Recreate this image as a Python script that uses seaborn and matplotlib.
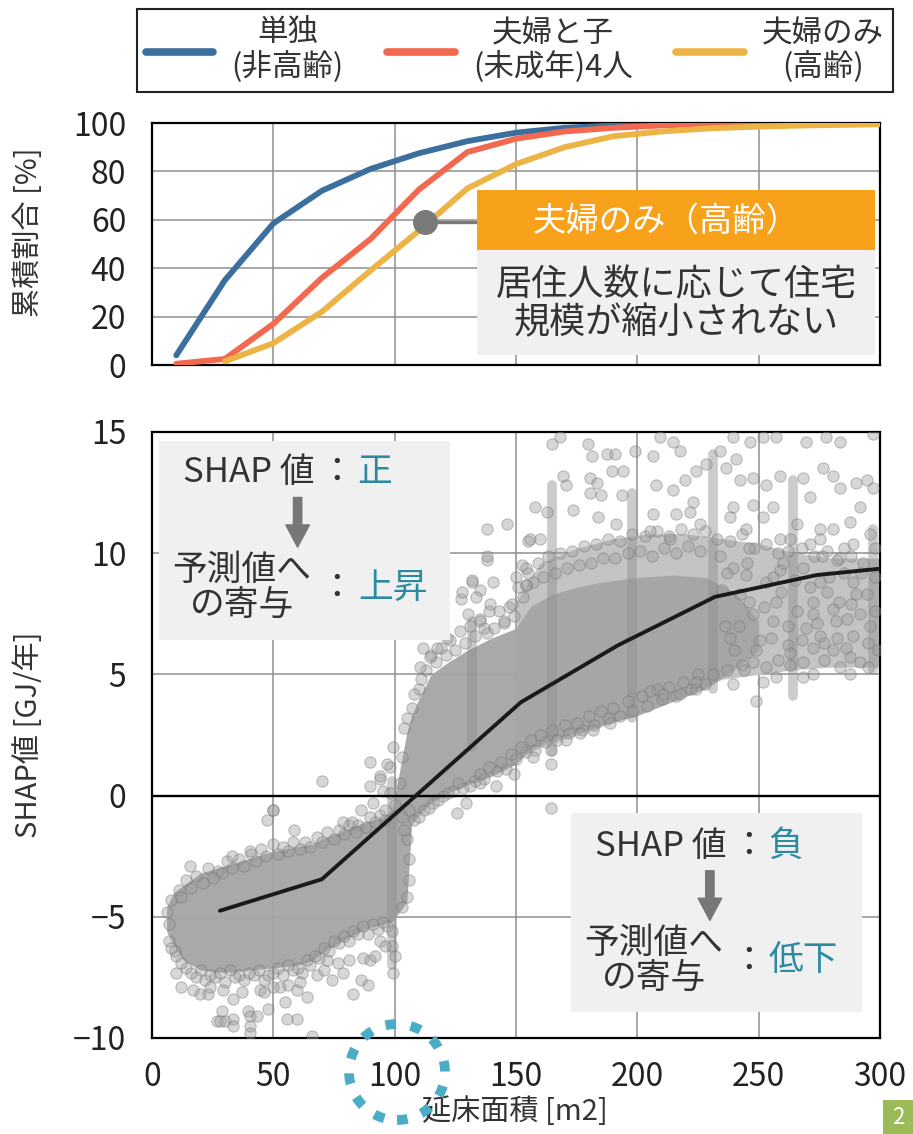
import numpy as np
import pandas as pd
import matplotlib
matplotlib.use("Agg")
import matplotlib.pyplot as plt
import seaborn as sns
from matplotlib import font_manager
from matplotlib.patches import Rectangle, Ellipse
from matplotlib.lines import Line2D

# ---------------------------------------------------------------- data
# cumulative share of households by floor area [%]
area_steps = [10, 30, 50, 70, 90, 110, 130, 150, 170, 190, 210, 230, 250, 270, 290, 300]
cum_single = [4, 35, 58.5, 72, 81, 87.5, 92.5, 96, 98, 99, 99.5, 99.7, 99.8, 99.9, 100, 100]
cum_family = [0.5, 2.5, 17, 36, 52, 72.5, 88, 93.5, 96.5, 98, 99, 99.5, 99.7, 99.8, 99.9, 100]
area_steps_couple = [30, 50, 70, 90, 110, 130, 150, 170, 190, 210, 230, 250, 270, 290, 300]
cum_couple = [1.5, 9, 22, 39, 55.5, 73, 83, 90, 94.5, 96.5, 97.8, 98.5, 99, 99.3, 99.5]

group_labels = ["単独\n(非高齢)", "夫婦と子\n(未成年)4人", "夫婦のみ\n(高齢)"]
group_colors = ["#3A6F9E", "#F2694F", "#EDB445"]

# SHAP values of floor area: dense body of the cloud (lower / upper bound)
cloud_x = [6, 9, 13, 20, 30, 40, 50, 60, 66, 70, 75, 82, 88, 95, 99, 102, 105, 107,
           110, 115, 122, 130, 140, 150, 156, 165, 175, 185, 200, 215, 228, 240, 250]
cloud_lo = [-5.6, -6.2, -6.8, -7.2, -7.3, -7.2, -7.1, -7.0, -6.8, -6.5, -6.2, -5.8, -5.5,
            -5.3, -5.2, -4.8, -4.4, -1.2, -0.8, -0.3, 0.1, 0.45, 0.8, 1.3, 1.9, 2.3, 2.6,
            2.9, 3.3, 3.9, 4.4, 5.2, 6.0]
cloud_hi = [-4.6, -4.0, -3.7, -3.2, -2.9, -2.6, -2.3, -2.1, -2.0, -1.8, -1.6, -1.3, -1.1,
            -0.9, -0.6, 1.0, 2.6, 3.3, 4.0, 5.0, 5.5, 6.0, 6.5, 6.9, 7.8, 8.3, 8.6, 8.8,
            9.0, 9.1, 9.0, 8.4, 7.2]
# looser part of the cloud at larger floor areas
haze_x = [150, 160, 175, 190, 205, 220, 235, 250, 265, 280, 300]
haze_lo = [1.5, 2.0, 2.5, 3.0, 3.6, 4.2, 4.8, 5.0, 5.2, 5.3, 5.3]
haze_hi = [8.0, 9.6, 10.2, 10.6, 10.8, 10.8, 10.6, 10.4, 10.0, 9.8, 9.8]
# stacked columns at round floor areas
streak_x = [99, 132, 165, 198, 231, 264, 297]
streak_lo = [-7.0, 2.0, 1.8, 3.2, 4.4, 4.1, 5.2]
streak_hi = [0.6, 7.2, 12.8, 12.5, 14.1, 13.0, 11.0]

# individual samples around the edges of the cloud
edge_pts = [
    # small areas, upper rim
    (8, -4.3), (11, -3.9), (14, -3.5), (18, -3.3), (23, -3.0), (27, -3.1), (31, -2.7),
    (36, -2.6), (41, -2.4), (45, -2.2), (50, -2.0), (54, -2.1), (58, -1.9), (63, -1.9),
    (68, -1.7), (72, -1.5), (77, -1.4), (81, -1.2), (85, -1.2), (90, -0.9), (94, -0.8),
    (86, -0.6), (91, -0.3), (95, 0.2),
    (6, -4.8), (7, -5.3), (12, -4.2), (16, -3.8), (21, -3.6), (25, -3.4), (29, -3.2),
    (33, -3.0), (38, -2.9), (43, -2.7), (47, -2.5), (52, -2.4), (56, -2.3), (61, -2.2),
    (65, -2.1), (70, -1.9), (75, -1.8), (79, -1.6), (84, -1.5), (88, -1.3), (92, -1.1),
    (96, -1.0), (100, -0.4), (102, 0.5),
    # small areas, lower rim
    (7, -6.0), (10, -6.6), (14, -7.1), (18, -7.5), (22, -7.6), (26, -7.5), (30, -7.7),
    (34, -7.5), (38, -7.6), (42, -7.4), (46, -7.6), (50, -7.3), (54, -7.4), (58, -7.2),
    (62, -7.3), (65, -7.0), (69, -6.7), (73, -6.4), (77, -6.1), (81, -6.0), (85, -5.7),
    (89, -5.7), (93, -5.5), (97, -5.4),
    (8, -6.3), (12, -6.9), (16, -7.3), (20, -7.2), (24, -7.4), (28, -7.3), (32, -7.2),
    (36, -7.4), (40, -7.3), (44, -7.2), (48, -7.4), (52, -7.1), (56, -7.0), (60, -7.1),
    (64, -6.8), (67, -6.6), (71, -6.3), (75, -6.0), (79, -5.8), (83, -5.6), (87, -5.4),
    (91, -5.3), (95, -5.2), (99, -5.6), (99, -6.2), (100, -6.6), (103, -4.6), (105, -4.2),
    (106, -3.5), (106, -2.6), (105, -1.8),
    # medium / large areas, lower rim
    (104, -1.4), (108, -1.0), (112, -0.6), (116, -0.3), (120, 0.0), (124, 0.2), (128, 0.3),
    (133, 0.6), (137, 0.7), (142, 1.0), (146, 1.1), (150, 1.5), (154, 1.8), (158, 1.9),
    (162, 2.2), (167, 2.3), (172, 2.6), (177, 2.7), (182, 2.9), (188, 3.2), (193, 3.3),
    (198, 3.5), (204, 3.7), (210, 4.0), (216, 4.1), (222, 4.4), (228, 4.6),
    (103, -0.9), (106, -0.6), (110, -0.9), (114, -0.5), (118, -0.2), (122, 0.1), (126, 0.5),
    (131, 0.4), (135, 0.9), (139, 1.2), (144, 1.4), (148, 1.7), (152, 2.0), (156, 2.3),
    (160, 2.5), (165, 2.7), (170, 2.9), (175, 3.0), (180, 3.3), (185, 3.5), (190, 3.6),
    (196, 3.9), (202, 4.1), (208, 4.4), (213, 4.5), (219, 4.7), (225, 5.0), (231, 5.0),
    (237, 5.2), (243, 5.4), (253, 5.3), (258, 5.6), (263, 5.4), (277, 5.6), (295, 5.3),
    # medium / large areas, upper rim
    (104, 2.8), (107, 3.6), (110, 4.4), (113, 5.2), (117, 5.5), (121, 5.8), (125, 6.0),
    (129, 6.3), (133, 6.6), (137, 6.9), (141, 6.9), (145, 7.1), (149, 7.4), (153, 8.2),
    (157, 8.8), (161, 9.0), (166, 9.2), (171, 9.4), (176, 9.5), (181, 9.6), (186, 9.8),
    (191, 9.8), (196, 10.0), (201, 10.1), (206, 9.9), (211, 10.2), (216, 10.0),
    (221, 10.3), (226, 10.1),
    (103, 1.6), (105, 3.2), (108, 4.2), (111, 4.8), (115, 5.8), (119, 6.1), (123, 6.4),
    (127, 6.8), (131, 7.0), (135, 7.3), (139, 7.6), (143, 7.6), (147, 7.8), (151, 8.6),
    (155, 9.2), (159, 9.6), (163, 9.9), (168, 10.0), (173, 10.1), (178, 10.3), (183, 10.4),
    (188, 10.6), (193, 10.5), (198, 10.8), (203, 10.7), (208, 10.9), (213, 10.7),
    (218, 11.0), (223, 10.8), (228, 10.9), (233, 10.6), (238, 10.5), (243, 10.8),
    (248, 10.2), (253, 10.4), (258, 10.0), (263, 10.6), (268, 10.2), (273, 9.9),
    (278, 10.1), (283, 9.8), (288, 9.9), (293, 9.6), (298, 10.2),
]
# samples in the sparse areas
outlier_pts = [
    # small floor areas
    (15.7, -2.9), (32.8, -2.5), (40.4, -2.3), (47.2, -1.0), (49.7, -0.6), (58.5, -1.4),
    (78.8, -1.1), (82.3, -1.1), (89.8, 0.4), (69.9, 0.6), (50.0, -0.6), (89.8, 1.4),
    (94.0, 0.8), (98.0, 1.2), (9.5, -6.4), (9.9, -7.3), (19.8, -8.2), (23.2, -8.2),
    (29.4, -8.0), (33.5, -8.4), (28.7, -8.9), (26.7, -9.3), (30.1, -9.3), (33.5, -9.2),
    (39.7, -8.9), (40.4, -9.1), (43.1, -9.1), (44.5, -8.0), (47.9, -8.8), (40.4, -9.5),
    (52.7, -7.9), (54.8, -8.5), (56.2, -7.8), (59.6, -8.0), (63.7, -8.3), (55.5, -9.2),
    (59.6, -9.2), (65.8, -9.9), (72.0, -6.8), (76.8, -6.9), (78.8, -7.3), (83.0, -8.2),
    (87.1, -6.7), (89.8, -6.8), (94.0, -6.0), (99.4, -7.3), (40.4, -9.8), (28.0, -9.3),
    (33.4, -9.5), (12, -7.9), (17, -8.0), (24, -7.9), (37, -8.1), (46, -8.1), (50, -7.9),
    (61, -7.7), (68, -7.4), (71, -7.2), (74, -7.6), (81, -6.8), (86, -7.6), (92, -6.6),
    (96, -6.2), (89, -7.8),
    # medium floor areas
    (99.4, 2.0), (96.7, 1.3), (93.9, 0.7), (96.0, -0.6), (98.0, 0.1), (125.5, -0.7),
    (129.6, -0.3), (164.6, -0.5), (141.9, 0.4), (135.0, 0.5), (149.2, 0.9), (157.1, 1.6),
    (164.6, 1.3), (164.6, 1.9), (170.8, 2.3), (176.3, 2.6), (181.7, 2.7), (188.6, 3.0),
    (111.7, 6.1), (114.5, 5.7), (110.3, 5.3), (127.3, 8.1), (131.7, 8.8), (135.1, 8.5),
    (140.6, 8.8), (139.2, 7.9), (130.3, 7.5), (135.1, 7.2), (137.9, 6.7), (148.5, 7.9),
    (149.9, 9.0), (154.0, 8.7), (145.1, 7.2), (152.6, 9.5), (137.9, 9.7), (137.9, 11.0),
    (146.1, 11.2), (137.9, 9.9), (155.0, 10.5), (131.7, 8.9), (127.6, 8.4), (117.3, 6.1),
    (121.4, 6.5), (133.7, 8.2),
    # large floor areas, upper scatter
    (164.7, 14.5), (168, 14.8), (179.8, 14.5), (181.2, 14.0), (187.4, 14.1), (190.8, 14.1),
    (198.9, 14.2), (169.4, 13.2), (170.8, 12.8), (180.4, 13.1), (183.2, 12.9), (189.4, 13.4),
    (194.2, 13.4), (180.4, 12.5), (185.2, 12.4), (193.5, 12.4), (157.8, 11.9), (162.6, 11.7),
    (173.6, 11.8), (183.9, 11.5), (191.4, 11.2), (155.7, 10.6), (159.8, 10.6), (154.3, 9.4),
    (154.3, 8.7), (206.5, 14.0), (209.2, 14.8), (214.7, 14.6), (217.4, 14.2), (207.8, 12.8),
    (214.7, 12.6), (219.5, 13.0), (224.3, 13.4), (228.4, 13.7), (236.7, 13.5), (240.8, 13.9),
    (233.9, 14.2), (239.4, 14.8), (246.3, 14.6), (251.8, 14.8), (257.3, 14.8), (269.7, 14.6),
    (277.9, 14.8), (283.4, 14.6), (297.1, 14.9), (242.2, 13.0), (247.7, 13.1), (253.2, 12.8),
    (258.7, 13.2), (268.3, 13.1), (271.1, 12.3), (276.6, 13.5), (280.7, 13.2), (283.4, 12.7),
    (290.3, 12.9), (294.5, 13.0), (297.2, 12.7), (291.7, 11.9), (287.6, 11.3), (280.7, 11.0),
    (275.3, 11.0), (271.1, 10.4), (255.9, 11.9), (251.8, 11.5), (247.7, 12.0), (239.4, 11.9),
    (238.0, 11.5), (222.9, 12.1), (221.6, 11.7), (216.1, 11.6), (206.5, 11.6), (205.2, 10.9),
    (213.4, 10.6), (225.7, 11.2), (244.9, 11.0), (258.7, 10.6), (265.6, 11.2), (275.3, 10.6),
    (289.0, 10.4), (295.9, 10.8),
    # large floor areas, body and lower edge
    (268.3, 9.4), (275.3, 8.8), (282.1, 9.7), (289.0, 8.8), (294.5, 8.3), (272.5, 8.0),
    (280.7, 7.7), (286.2, 7.3), (291.7, 7.5), (269.7, 6.9), (275.3, 6.6), (282.1, 6.5),
    (289.0, 6.6), (272.5, 6.1), (280.7, 6.0), (287.6, 5.7), (291.7, 5.5), (283.4, 5.3),
    (287.6, 5.0), (272.5, 5.0), (268.3, 4.9), (257.3, 4.9), (251.8, 4.7), (249.0, 3.9),
    (239.4, 4.6), (224.3, 4.4), (217.4, 4.2), (210.6, 4.2), (205.2, 4.3), (224.3, 4.7),
    (247.7, 5.5), (250.4, 6.4), (255.9, 7.2), (257.3, 8.0), (247.7, 7.5), (242.2, 8.3),
    (244.9, 9.1), (253.2, 8.8), (258.7, 9.3), (239.4, 9.4), (233.9, 9.9), (272.5, 7.5),
    (268.3, 5.5), (262, 6.2), (266, 7.6), (278, 8.4), (285, 9.2), (296, 7.0), (299, 6.0),
    (298, 9.0), (240, 6.0), (244, 5.2), (236, 7.0), (260, 9.6), (276, 9.9), (285, 10.2),
    (246, 10.2), (262, 10.1),
    (235, 8.5), (238, 6.5), (242, 7.0), (246, 8.0), (249, 6.0), (252, 7.8), (255, 6.5),
    (259, 8.4), (262, 7.0), (265, 8.9), (268, 6.4), (271, 8.6), (274, 7.1), (277, 6.3),
    (279, 9.0), (283, 8.0), (286, 6.1), (288, 7.9), (292, 9.2), (295, 6.3), (298, 7.6),
    (263, 5.9), (282, 7.2), (290, 8.3), (256, 9.0), (245, 9.6), (237, 9.2),
]

# mean SHAP value by floor area
trend_x = [28, 70, 152, 192, 232, 274, 300]
trend_y = [-4.75, -3.45, 3.85, 6.2, 8.2, 9.1, 9.36]

x_ticks = [0, 50, 100, 150, 200, 250, 300]
pct_ticks = [0, 20, 40, 60, 80, 100]
shap_ticks = [-10, -5, 0, 5, 10, 15]

# ---------------------------------------------------------------- style
sns.set_theme(style="white")
plt.rcParams["font.family"] = ["Noto Sans CJK JP", "DejaVu Sans"]
plt.rcParams["axes.unicode_minus"] = True


def first_font(*names):
    for name in names:
        try:
            font_manager.findfont(font_manager.FontProperties(family=name),
                                  fallback_to_default=False)
            return name
        except Exception:
            continue
    return "Noto Sans CJK JP"


NUM_FONT = first_font("Liberation Sans Narrow", "Noto Sans CJK JP")
TXT = "#333333"
TEAL = "#2B8A9F"
GRID = "#8F8F8F"

W, H = 913, 1134
fig = plt.figure(figsize=(W / 100, H / 100), dpi=100)
fig.patch.set_facecolor("white")
ax_top = fig.add_axes([152 / W, 1 - 365 / H, 728 / W, 242 / H])
ax_bot = fig.add_axes([152 / W, 1 - 1038 / H, 728 / W, 606 / H])


def style_axes(ax):
    for sp in ax.spines.values():
        sp.set_visible(True)
        sp.set_color("black")
        sp.set_linewidth(1.6)
    ax.grid(True, color=GRID, lw=1.1)
    ax.set_axisbelow(True)
    ax.tick_params(direction="inout", length=11, width=1.5, color="black",
                   labelsize=23, labelcolor="#222222", labelfontfamily=NUM_FONT)
    ax.tick_params(axis="y", pad=13)
    ax.tick_params(axis="x", pad=11)
    ax.set_facecolor("white")


# ---------------------------------------------------------------- top panel
frames = [
    pd.DataFrame({"area": area_steps, "pct": cum_single, "group": group_labels[0]}),
    pd.DataFrame({"area": area_steps, "pct": cum_family, "group": group_labels[1]}),
    pd.DataFrame({"area": area_steps_couple, "pct": cum_couple, "group": group_labels[2]}),
]
cum_df = pd.concat(frames, ignore_index=True)
sns.lineplot(data=cum_df, x="area", y="pct", hue="group", hue_order=group_labels,
             palette=dict(zip(group_labels, group_colors)), lw=4.2, sort=False,
             estimator=None, legend=False, ax=ax_top, zorder=3)
style_axes(ax_top)
ax_top.set_xlim(0, 300)
ax_top.set_ylim(0, 100)
ax_top.set_xticks(x_ticks)
ax_top.set_yticks(pct_ticks)
ax_top.tick_params(axis="x", labelbottom=False)
ax_top.set_xlabel("")
ax_top.set_ylabel("累積割合 [%]", fontsize=21, color=TXT)
ax_top.yaxis.set_label_coords(-0.148, 0.55)

# callout for the elderly-couple curve
ax_top.plot([112.5, 134], [59, 59], color="#7A7A7A", lw=2.4, zorder=5)
ax_top.plot([112.5], [59], "o", ms=17, color="#7A7A7A", zorder=6)
ax_top.add_patch(Rectangle((133.9, 47.5), 164, 24.8, fc="#F8A11A", ec="none", zorder=7))
ax_top.add_patch(Rectangle((133.9, 4.1), 164, 43.4, fc="#F0F0F0", ec="none", zorder=7))
ax_top.text(211.8, 59.5, "夫婦のみ（高齢）", color="white", fontsize=24,
            ha="center", va="center", zorder=8)
ax_top.text(216, 25, "居住人数に応じて住宅\n規模が縮小されない", color=TXT, fontsize=26,
            ha="center", va="center", linespacing=1.05, zorder=8)

# legend
handles = [Line2D([0], [0], color=c, lw=5.5, solid_capstyle="round") for c in group_colors]
leg = fig.legend(handles, group_labels, loc="center", ncol=3, mode="expand",
                 bbox_to_anchor=(137 / W, 1 - 97 / H, 756 / W, 93 / H),
                 frameon=True, fancybox=False, edgecolor="#222222", framealpha=1,
                 fontsize=22, handlelength=2.2, handletextpad=0.6, columnspacing=0.5,
                 borderpad=0.3, borderaxespad=0)
leg.get_frame().set_linewidth(1.5)
for t in leg.get_texts():
    t.set_multialignment("center")
    t.set_color(TXT)
    t.set_linespacing(1.05)

# ---------------------------------------------------------------- bottom panel
style_axes(ax_bot)
ax_bot.fill_between(haze_x, haze_lo, haze_hi, color="#C4C4C4", lw=0, zorder=1.5)
ax_bot.fill_between(cloud_x, cloud_lo, cloud_hi, color="#A5A5A5", lw=0, alpha=0.95,
                    zorder=2)
streaks = ax_bot.vlines(streak_x, streak_lo, streak_hi, colors="#8E8E8E", lw=7,
                        alpha=0.45, zorder=2.5)
streaks.set_capstyle("round")

pts = pd.DataFrame(edge_pts + outlier_pts, columns=["area", "shap"])
sns.scatterplot(data=pts, x="area", y="shap", s=66, color="#9C9C9C", alpha=0.4,
                edgecolor="#6E6E6E", linewidth=0.8, ax=ax_bot, zorder=3, legend=False)

trend = pd.DataFrame({"area": trend_x, "shap": trend_y})
sns.lineplot(data=trend, x="area", y="shap", color="#1A1A1A", lw=2.8, sort=False,
             estimator=None, ax=ax_bot, zorder=5)
ax_bot.axhline(0, color="black", lw=1.7, zorder=4)

ax_bot.set_xlim(0, 300)
ax_bot.set_ylim(-10, 15)
ax_bot.set_xticks(x_ticks)
ax_bot.set_yticks(shap_ticks)
ax_bot.set_ylabel("SHAP値 [GJ/年]", fontsize=21, color=TXT)
ax_bot.yaxis.set_label_coords(-0.148, 0.5)
ax_bot.set_xlabel("延床面積 [m2]", fontsize=21, color=TXT)
ax_bot.xaxis.set_label_coords(0.499, -0.097)

# explanation boxes
ax_bot.add_patch(Rectangle((2.9, 6.42), 119.9, 8.21, fc="#F0F0F0", ec="none", zorder=8))
ax_bot.add_patch(Rectangle((172.6, -8.93), 119.9, 8.21, fc="#F0F0F0", ec="none", zorder=8))

arrow_kw = dict(arrowstyle="simple,head_length=0.8,head_width=0.85,tail_width=0.3",
                color="#777777", mutation_scale=20, shrinkA=0, shrinkB=0)


def explain(x_label, x_colon, x_value, x_arrow, y_top, y_bottom, y_arrow0, y_arrow1,
            sign, effect):
    kw = dict(fontsize=25, ha="center", va="center", zorder=9)
    ax_bot.text(x_label, y_top, "SHAP 値", color=TXT, **kw)
    ax_bot.text(x_colon, y_top, "：", color=TXT, **kw)
    ax_bot.text(x_value, y_top, sign, color=TEAL, **kw)
    ax_bot.annotate("", xy=(x_arrow, y_arrow1), xytext=(x_arrow, y_arrow0),
                    arrowprops=arrow_kw, zorder=9)
    ax_bot.text(x_label - 2.8, y_bottom, "予測値へ\nの寄与", color=TXT,
                linespacing=1.0, **kw)
    ax_bot.text(x_colon, y_bottom, "：", color=TXT, **kw)
    ax_bot.text(x_value + 7.2, y_bottom, effect, color=TEAL, **kw)


explain(39.8, 76.1, 91.9, 60.0, 13.33, 8.55, 12.3, 10.25, "正", "上昇")
explain(209.7, 245.7, 261.2, 229.9, -2.1, -6.82, -3.1, -5.15, "負", "低下")

# highlight around the 100 m2 tick
fig.add_artist(Ellipse((397 / W, 1 - 1072 / H), 2 * 48 / W, 2 * 48 / H,
                       transform=fig.transFigure, fill=False, ec="#4BACC6", lw=7,
                       ls=(0, (1.1, 1.5))))

# page marker
fig.add_artist(Rectangle((883 / W, 0), 30 / W, 34 / H, transform=fig.transFigure,
                         fc="#9BBB59", ec="none"))
fig.text(898 / W, 1 - 1118 / H, "2", color="white", fontsize=16, ha="center",
         va="center")

fig.savefig("out.png", dpi=100, facecolor="white")
